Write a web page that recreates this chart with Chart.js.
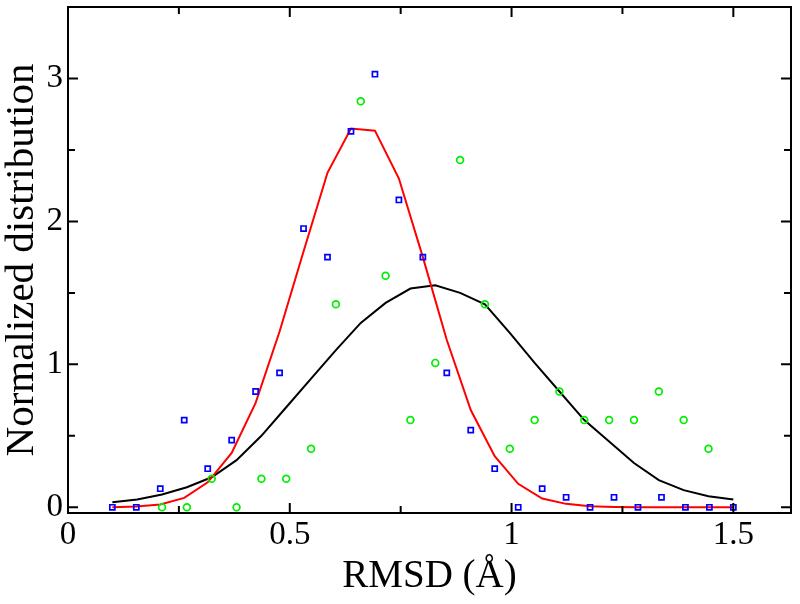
<!DOCTYPE html>
<html>
<head>
<meta charset="utf-8">
<script src="https://cdn.jsdelivr.net/npm/chart.js@4/dist/chart.umd.min.js"></script>
<style>
  html, body { margin: 0; padding: 0; background: #ffffff; }
  #wrap { width: 800px; height: 604px; }
</style>
</head>
<body>
<div id="wrap"><canvas id="c" width="800" height="604"></canvas></div>
<script>
// ---- data ----
// bins of the blue / red series (27 bins between 0.1 and 1.5 Å)
const blueX = [0.100, 0.154, 0.208, 0.262, 0.315, 0.369, 0.423, 0.477, 0.531, 0.585,
               0.638, 0.692, 0.746, 0.800, 0.854, 0.908, 0.962, 1.015, 1.069, 1.123,
               1.177, 1.231, 1.285, 1.338, 1.392, 1.446, 1.500];
const blueY = [0, 0, 0.13, 0.61, 0.27, 0.47, 0.81, 0.94, 1.95, 1.75,
               2.63, 3.03, 2.15, 1.75, 0.94, 0.54, 0.27, 0, 0.13, 0.07,
               0, 0.07, 0, 0.07, 0, 0, 0];
const redY  = [0, 0.005, 0.02, 0.066, 0.175, 0.38, 0.73, 1.23, 1.79, 2.34,
               2.65, 2.635, 2.30, 1.75, 1.17, 0.68, 0.357, 0.164, 0.061, 0.024,
               0.007, 0.002, 0, 0, 0, 0, 0];
// bins of the green / black series (26 bins between 0.1 and 1.5 Å)
const greenX = [0.100, 0.156, 0.212, 0.268, 0.324, 0.380, 0.436, 0.492, 0.548, 0.604,
                0.660, 0.716, 0.772, 0.828, 0.884, 0.940, 0.996, 1.052, 1.108, 1.164,
                1.220, 1.276, 1.332, 1.388, 1.444, 1.500];
const greenY = [null, null, 0, 0, 0.2, 0, 0.2, 0.2, 0.41, 1.42,
                2.84, 1.62, 0.61, 1.01, 2.43, 1.42, 0.41, 0.61, 0.81, 0.61,
                0.61, 0.61, 0.81, 0.61, 0.41, null];
const blackY = [0.035, 0.055, 0.09, 0.14, 0.21, 0.33, 0.5, 0.7, 0.9, 1.1,
                1.29, 1.43, 1.53, 1.553, 1.50, 1.42, 1.22, 1.01, 0.81, 0.61,
                0.46, 0.31, 0.19, 0.12, 0.077, 0.054];
const xTickLabels = [0, 0.5, 1, 1.5];
const yTickLabels = [0, 1, 2, 3];
const xMinorTicks = [0.25, 0.75, 1.25];
const yMinorTicks = [0.5, 1.5, 2.5, 3.5];
const xTitle = 'RMSD (Å)';
const yTitle = 'Normalized distribution';

function pts(xs, ys) { return xs.map((x, i) => ({ x: x, y: ys[i] })); }

const SERIF = "'Liberation Serif', 'DejaVu Serif', serif";

const frameTicks = {
  id: 'frameTicks',
  afterDatasetsDraw(chart) {
    const { ctx, chartArea: a, scales } = chart;
    const xs = scales.x, ys = scales.y;
    ctx.save();
    ctx.strokeStyle = '#000';
    ctx.lineWidth = 2;
    ctx.beginPath();
    const drawX = (v, len) => {
      const p = xs.getPixelForValue(v);
      if (p < a.left - 1 || p > a.right + 1) return;
      ctx.moveTo(p, a.bottom); ctx.lineTo(p, a.bottom - len);
      ctx.moveTo(p, a.top); ctx.lineTo(p, a.top + len);
    };
    const drawY = (v, len) => {
      const p = ys.getPixelForValue(v);
      if (p < a.top - 1 || p > a.bottom + 1) return;
      ctx.moveTo(a.left, p); ctx.lineTo(a.left + len, p);
      ctx.moveTo(a.right, p); ctx.lineTo(a.right - len, p);
    };
    xTickLabels.forEach(v => drawX(v, 10));
    xMinorTicks.forEach(v => drawX(v, 7));
    yTickLabels.forEach(v => drawY(v, 10));
    yMinorTicks.forEach(v => drawY(v, 7));
    ctx.stroke();
    ctx.strokeRect(a.left, a.top, a.right - a.left, a.bottom - a.top);
    ctx.restore();
  }
};

new Chart(document.getElementById('c'), {
  type: 'scatter',
  data: {
    datasets: [
      {
        label: 'red', data: pts(blueX, redY), showLine: true,
        borderColor: '#ff0000', borderWidth: 2, pointRadius: 0, fill: false, order: 3
      },
      {
        label: 'black', data: pts(greenX, blackY), showLine: true,
        borderColor: '#000000', borderWidth: 2, pointRadius: 0, fill: false, order: 4
      },
      {
        label: 'green', data: pts(greenX, greenY), showLine: false,
        pointStyle: 'circle', pointRadius: 3.4, borderWidth: 1.7,
        borderColor: '#00ee00', backgroundColor: 'rgba(0,0,0,0)', order: 2
      },
      {
        label: 'blue', data: pts(blueX, blueY), showLine: false,
        pointStyle: 'rect', pointRadius: 3.6, borderWidth: 1.7,
        borderColor: '#0000ff', backgroundColor: 'rgba(0,0,0,0)', order: 1
      }
    ]
  },
  options: {
    responsive: false,
    animation: false,
    devicePixelRatio: 1,
    layout: { padding: { top: 7, right: 9, left: 0, bottom: 0 } },
    plugins: { legend: { display: false }, tooltip: { enabled: false } },
    scales: {
      x: {
        type: 'linear', min: 0, max: 1.63,
        afterFit(s) { s.height = 91; s.paddingLeft = 0; s.paddingRight = 0; },
        grid: { display: false, drawTicks: false },
        border: { display: false },
        ticks: {
          stepSize: 0.5, includeBounds: false, padding: 3, color: '#000',
          font: { family: SERIF, size: 33 }, maxRotation: 0,
          callback: v => (xTickLabels.includes(+v.toFixed(2)) ? String(+v.toFixed(2)) : '')
        },
        title: {
          display: true, text: xTitle, color: '#000',
          font: { family: SERIF, size: 39, lineHeight: 1 },
          padding: { top: 0, bottom: 8 }
        }
      },
      y: {
        type: 'linear', min: -0.04, max: 3.5,
        afterFit(s) { s.width = 68; s.paddingTop = 0; s.paddingBottom = 0; },
        grid: { display: false, drawTicks: false },
        border: { display: false },
        ticks: {
          stepSize: 1, includeBounds: false, padding: 5, color: '#000',
          font: { family: SERIF, size: 33 },
          callback: v => (yTickLabels.includes(+v.toFixed(2)) ? String(+v.toFixed(2)) : '')
        },
        title: {
          display: true, text: yTitle, color: '#000',
          font: { family: SERIF, size: 41, lineHeight: 1 },
          padding: { top: 2, bottom: 0 }
        }
      }
    }
  },
  plugins: [frameTicks]
});
</script>
</body>
</html>
